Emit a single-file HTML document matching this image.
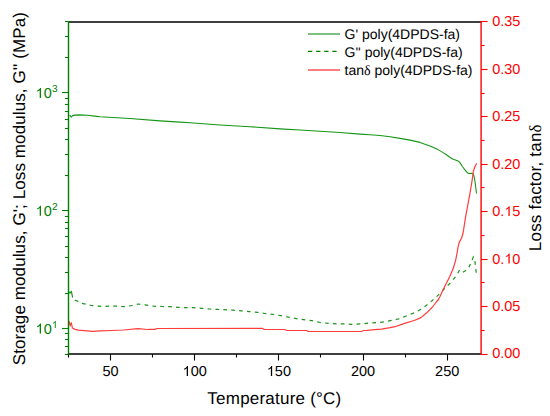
<!DOCTYPE html>
<html><head><meta charset="utf-8"><style>
html,body{margin:0;padding:0;background:#fff;width:550px;height:416px;overflow:hidden}
svg{position:absolute;left:0;top:0;display:block}
text{font-family:"Liberation Sans",sans-serif;text-rendering:geometricPrecision}
.tl{font-size:14.5px}
.sup{font-size:10.2px}
.dl{font-family:"Liberation Serif",serif}
.ti{font-size:17px}
.lg{font-size:14px}
</style></head><body>
<svg width="550" height="416" viewBox="0 0 550 416">
<polyline points="69.5,116.2 70.2,115.5 71.3,117.1 72.6,115.6 74.9,115.1 79.3,114.9 87.3,115.3 96.7,116.4 100.0,116.8 130.0,118.5 160.0,120.9 180.0,122.1 190.0,122.8 220.0,125.0 250.0,126.7 280.0,128.9 300.0,130.0 320.0,131.3 340.0,132.5 360.0,134.1 370.0,134.8 380.0,135.5 390.0,136.7 400.0,138.4 410.0,140.1 420.0,142.4 430.0,145.9 438.0,149.6 443.1,152.6 446.4,154.7 449.8,157.2 453.2,159.3 456.1,160.2 458.6,161.2 460.3,163.1 462.4,166.5 464.9,169.8 467.5,172.8 468.7,173.5 471.7,173.2 473.4,174.1 474.2,177.0 475.2,183.0 476.5,193.5" fill="none" stroke="#169616" stroke-width="1.1" stroke-linejoin="round"/>
<polyline points="69.0,291.6 70.0,293.2 71.4,291.3 72.6,297.5" fill="none" stroke="#1a951a" stroke-width="1.2" stroke-linejoin="round"/>
<polyline points="72.6,297.5 75.0,300.2 78.2,301.4 82.0,303.3 86.1,304.3 90.9,305.5 101.8,306.4 114.5,306.0 123.6,306.7 132.7,305.5 138.2,304.0 145.5,304.9 153.8,306.2 162.7,306.5 170.4,306.7 178.0,307.3 186.9,307.7 193.9,307.7 202.2,308.4 209.8,309.0 217.5,309.4 233.1,310.2 241.8,310.9 249.1,311.6 257.8,312.4 265.1,313.5 273.8,314.5 281.1,315.7 288.4,317.2 298.7,319.1 311.8,320.6 320.5,322.5 329.3,323.5 338.0,323.9 345.3,323.9 352.5,324.3 361.3,323.9 368.4,323.1 376.2,322.7 384.0,321.9 391.9,320.4 398.8,318.8 407.0,315.7 414.2,312.8 421.0,309.2 427.7,304.4 433.6,299.4 440.8,292.6 445.6,287.6 451.0,282.2 456.4,275.6 459.2,270.6 461.8,273.0 465.0,271.0 468.5,268.1 471.8,260.9 473.3,257.0 474.7,259.4 476.6,275.8" fill="none" stroke="#1a951a" stroke-width="1.2" stroke-dasharray="3.7 4.2" stroke-dashoffset="4.5"/>
<polyline points="69.0,321.0 70.2,325.8 71.3,322.7 72.4,328.0 75.0,329.4 78.4,330.1 84.0,330.6 92.7,331.3 100.0,330.9 110.9,330.5 123.6,330.0 138.2,328.7 147.3,329.5 150.0,329.4 155.1,329.4 157.0,328.5 262.2,328.4 264.4,329.5 284.7,329.5 286.9,330.5 306.7,330.5 308.2,331.5 361.3,331.5 363.5,330.5 367.2,330.3 374.4,329.7 381.6,329.1 390.1,327.7 395.0,326.7 404.6,323.4 414.2,320.5 421.0,317.6 426.7,312.8 432.5,307.0 436.3,302.0 438.4,299.5 440.0,296.5 442.0,292.0 445.6,284.8 449.8,276.4 453.4,268.0 455.8,259.6 457.4,251.0 458.0,247.4 459.2,242.4 461.6,238.0 463.1,233.0 465.5,217.3 467.7,205.5 469.9,193.7 471.9,181.9 473.4,171.0 475.0,166.5 476.7,163.4" fill="none" stroke="#ff3c3c" stroke-width="1.2" stroke-linejoin="round"/>
<line x1="68.5" y1="22.0" x2="481.1" y2="22.0" stroke="#000" stroke-width="1.5"/>
<line x1="68.5" y1="354.0" x2="481.1" y2="354.0" stroke="#000" stroke-width="1.5"/>
<line x1="68.5" y1="21.3" x2="68.5" y2="354.7" stroke="#008000" stroke-width="1.4"/>
<line x1="481.1" y1="21.3" x2="481.1" y2="354.7" stroke="#ff0000" stroke-width="1.4"/>
<line x1="68.5" y1="354.0" x2="68.5" y2="357.5" stroke="#000" stroke-width="1.1"/>
<line x1="110.5" y1="354.0" x2="110.5" y2="360.5" stroke="#000" stroke-width="1.1"/>
<text x="102.43" y="376.10" class="tl" fill="#000">50</text>
<line x1="152.5" y1="354.0" x2="152.5" y2="357.5" stroke="#000" stroke-width="1.1"/>
<line x1="194.5" y1="354.0" x2="194.5" y2="360.5" stroke="#000" stroke-width="1.1"/>
<text x="182.58" y="376.10" class="tl" fill="#000"> 00</text><path d="M763,0L583,0L583,1100Q518,1040 412,980Q307,920 223,890L223,1057Q374,1125 487,1222Q600,1319 647,1409L763,1409Z" fill="#000" transform="translate(182.58,376.10) scale(0.007080,-0.007080)"/>
<line x1="236.5" y1="354.0" x2="236.5" y2="357.5" stroke="#000" stroke-width="1.1"/>
<line x1="278.5" y1="354.0" x2="278.5" y2="360.5" stroke="#000" stroke-width="1.1"/>
<text x="266.75" y="376.10" class="tl" fill="#000"> 50</text><path d="M763,0L583,0L583,1100Q518,1040 412,980Q307,920 223,890L223,1057Q374,1125 487,1222Q600,1319 647,1409L763,1409Z" fill="#000" transform="translate(266.75,376.10) scale(0.007080,-0.007080)"/>
<line x1="320.5" y1="354.0" x2="320.5" y2="357.5" stroke="#000" stroke-width="1.1"/>
<line x1="363.5" y1="354.0" x2="363.5" y2="360.5" stroke="#000" stroke-width="1.1"/>
<text x="350.93" y="376.10" class="tl" fill="#000">200</text>
<line x1="405.5" y1="354.0" x2="405.5" y2="357.5" stroke="#000" stroke-width="1.1"/>
<line x1="447.5" y1="354.0" x2="447.5" y2="360.5" stroke="#000" stroke-width="1.1"/>
<text x="435.10" y="376.10" class="tl" fill="#000">250</text>
<line x1="68.5" y1="354.5" x2="65.0" y2="354.5" stroke="#008000" stroke-width="1.1"/>
<line x1="68.5" y1="346.5" x2="65.0" y2="346.5" stroke="#008000" stroke-width="1.1"/>
<line x1="68.5" y1="339.5" x2="65.0" y2="339.5" stroke="#008000" stroke-width="1.1"/>
<line x1="68.5" y1="333.5" x2="65.0" y2="333.5" stroke="#008000" stroke-width="1.1"/>
<line x1="68.5" y1="328.5" x2="62.0" y2="328.5" stroke="#008000" stroke-width="1.1"/>
<text x="35.57" y="333.60" class="tl" fill="#008000"> 0</text><path d="M763,0L583,0L583,1100Q518,1040 412,980Q307,920 223,890L223,1057Q374,1125 487,1222Q600,1319 647,1409L763,1409Z" fill="#008000" transform="translate(35.57,333.60) scale(0.007080,-0.007080)"/>
<text x="51.90" y="328.05" class="sup" fill="#008000"> </text><path d="M763,0L583,0L583,1100Q518,1040 412,980Q307,920 223,890L223,1057Q374,1125 487,1222Q600,1319 647,1409L763,1409Z" fill="#008000" transform="translate(51.90,328.05) scale(0.004980,-0.004980)"/>
<line x1="68.5" y1="293.5" x2="65.0" y2="293.5" stroke="#008000" stroke-width="1.1"/>
<line x1="68.5" y1="272.5" x2="65.0" y2="272.5" stroke="#008000" stroke-width="1.1"/>
<line x1="68.5" y1="257.5" x2="65.0" y2="257.5" stroke="#008000" stroke-width="1.1"/>
<line x1="68.5" y1="246.5" x2="65.0" y2="246.5" stroke="#008000" stroke-width="1.1"/>
<line x1="68.5" y1="236.5" x2="65.0" y2="236.5" stroke="#008000" stroke-width="1.1"/>
<line x1="68.5" y1="228.5" x2="65.0" y2="228.5" stroke="#008000" stroke-width="1.1"/>
<line x1="68.5" y1="222.5" x2="65.0" y2="222.5" stroke="#008000" stroke-width="1.1"/>
<line x1="68.5" y1="216.5" x2="65.0" y2="216.5" stroke="#008000" stroke-width="1.1"/>
<line x1="68.5" y1="210.5" x2="62.0" y2="210.5" stroke="#008000" stroke-width="1.1"/>
<text x="35.57" y="215.80" class="tl" fill="#008000"> 0</text><path d="M763,0L583,0L583,1100Q518,1040 412,980Q307,920 223,890L223,1057Q374,1125 487,1222Q600,1319 647,1409L763,1409Z" fill="#008000" transform="translate(35.57,215.80) scale(0.007080,-0.007080)"/>
<text x="51.90" y="210.25" class="sup" fill="#008000">2</text>
<line x1="68.5" y1="175.5" x2="65.0" y2="175.5" stroke="#008000" stroke-width="1.1"/>
<line x1="68.5" y1="154.5" x2="65.0" y2="154.5" stroke="#008000" stroke-width="1.1"/>
<line x1="68.5" y1="139.5" x2="65.0" y2="139.5" stroke="#008000" stroke-width="1.1"/>
<line x1="68.5" y1="128.5" x2="65.0" y2="128.5" stroke="#008000" stroke-width="1.1"/>
<line x1="68.5" y1="119.5" x2="65.0" y2="119.5" stroke="#008000" stroke-width="1.1"/>
<line x1="68.5" y1="111.5" x2="65.0" y2="111.5" stroke="#008000" stroke-width="1.1"/>
<line x1="68.5" y1="104.5" x2="65.0" y2="104.5" stroke="#008000" stroke-width="1.1"/>
<line x1="68.5" y1="98.5" x2="65.0" y2="98.5" stroke="#008000" stroke-width="1.1"/>
<line x1="68.5" y1="92.5" x2="62.0" y2="92.5" stroke="#008000" stroke-width="1.1"/>
<text x="35.57" y="98.00" class="tl" fill="#008000"> 0</text><path d="M763,0L583,0L583,1100Q518,1040 412,980Q307,920 223,890L223,1057Q374,1125 487,1222Q600,1319 647,1409L763,1409Z" fill="#008000" transform="translate(35.57,98.00) scale(0.007080,-0.007080)"/>
<text x="51.90" y="92.45" class="sup" fill="#008000">3</text>
<line x1="68.5" y1="57.5" x2="65.0" y2="57.5" stroke="#008000" stroke-width="1.1"/>
<line x1="68.5" y1="36.5" x2="65.0" y2="36.5" stroke="#008000" stroke-width="1.1"/>
<line x1="68.5" y1="21.5" x2="65.0" y2="21.5" stroke="#008000" stroke-width="1.1"/>
<line x1="481.1" y1="354.5" x2="487.6" y2="354.5" stroke="#ff0000" stroke-width="1.1"/>
<text x="492.20" y="358.40" class="tl" fill="#ff0000">0.00</text>
<line x1="481.1" y1="330.5" x2="484.6" y2="330.5" stroke="#ff0000" stroke-width="1.1"/>
<line x1="481.1" y1="306.5" x2="487.6" y2="306.5" stroke="#ff0000" stroke-width="1.1"/>
<text x="492.20" y="310.97" class="tl" fill="#ff0000">0.05</text>
<line x1="481.1" y1="282.5" x2="484.6" y2="282.5" stroke="#ff0000" stroke-width="1.1"/>
<line x1="481.1" y1="259.5" x2="487.6" y2="259.5" stroke="#ff0000" stroke-width="1.1"/>
<text x="492.20" y="263.54" class="tl" fill="#ff0000">0. 0</text><path d="M763,0L583,0L583,1100Q518,1040 412,980Q307,920 223,890L223,1057Q374,1125 487,1222Q600,1319 647,1409L763,1409Z" fill="#ff0000" transform="translate(504.29,263.54) scale(0.007080,-0.007080)"/>
<line x1="481.1" y1="235.5" x2="484.6" y2="235.5" stroke="#ff0000" stroke-width="1.1"/>
<line x1="481.1" y1="211.5" x2="487.6" y2="211.5" stroke="#ff0000" stroke-width="1.1"/>
<text x="492.20" y="216.11" class="tl" fill="#ff0000">0. 5</text><path d="M763,0L583,0L583,1100Q518,1040 412,980Q307,920 223,890L223,1057Q374,1125 487,1222Q600,1319 647,1409L763,1409Z" fill="#ff0000" transform="translate(504.29,216.11) scale(0.007080,-0.007080)"/>
<line x1="481.1" y1="187.5" x2="484.6" y2="187.5" stroke="#ff0000" stroke-width="1.1"/>
<line x1="481.1" y1="164.5" x2="487.6" y2="164.5" stroke="#ff0000" stroke-width="1.1"/>
<text x="492.20" y="168.68" class="tl" fill="#ff0000">0.20</text>
<line x1="481.1" y1="140.5" x2="484.6" y2="140.5" stroke="#ff0000" stroke-width="1.1"/>
<line x1="481.1" y1="116.5" x2="487.6" y2="116.5" stroke="#ff0000" stroke-width="1.1"/>
<text x="492.20" y="121.25" class="tl" fill="#ff0000">0.25</text>
<line x1="481.1" y1="93.5" x2="484.6" y2="93.5" stroke="#ff0000" stroke-width="1.1"/>
<line x1="481.1" y1="69.5" x2="487.6" y2="69.5" stroke="#ff0000" stroke-width="1.1"/>
<text x="492.20" y="73.82" class="tl" fill="#ff0000">0.30</text>
<line x1="481.1" y1="45.5" x2="484.6" y2="45.5" stroke="#ff0000" stroke-width="1.1"/>
<line x1="481.1" y1="21.5" x2="487.6" y2="21.5" stroke="#ff0000" stroke-width="1.1"/>
<text x="492.20" y="26.39" class="tl" fill="#ff0000">0.35</text>
<text x="274.4" y="404.2" text-anchor="middle" class="ti" letter-spacing="0.22">Temperature (°C)</text>
<text transform="translate(24.6,188.6) rotate(-90)" text-anchor="middle" class="ti" letter-spacing="0.1">Storage modulus, G'; Loss modulus, G'' (MPa)</text>
<text transform="translate(540.8,187.7) rotate(-90)" text-anchor="middle" class="ti" letter-spacing="0.22">Loss factor, tan<tspan class="dl">δ</tspan></text>
<line x1="308" y1="34" x2="340" y2="34" stroke="#008000" stroke-width="1"/>
<line x1="308" y1="51.4" x2="337" y2="51.4" stroke="#008000" stroke-width="1.3" stroke-dasharray="4.3 3.8"/>
<line x1="308" y1="70" x2="340" y2="70" stroke="#ff0000" stroke-width="1"/>
<text x="344.5" y="38.8" class="lg">G' poly(4DPDS-fa)</text>
<text x="344.5" y="56.8" class="lg">G'' poly(4DPDS-fa)</text>
<text x="344.5" y="74.8" class="lg">tan<tspan class="dl">δ</tspan> poly(4DPDS-fa)</text>
</svg>
</body></html>
